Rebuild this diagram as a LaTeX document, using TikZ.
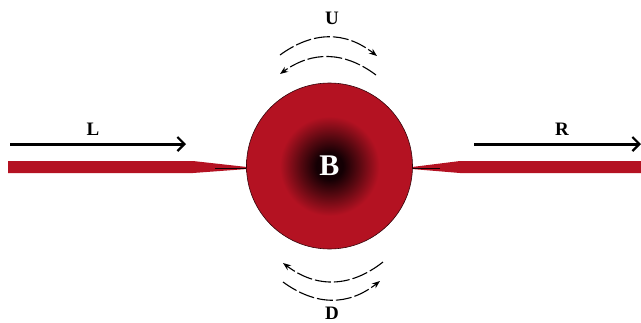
\documentclass[tikz,border=0pt]{standalone}
\usepackage{fontspec}
\setmainfont{Liberation Serif}
\usetikzlibrary{arrows.meta}
\definecolor{ballred}{RGB}{180,18,34}
\definecolor{balldark}{RGB}{20,0,4}
\pgfdeclareradialshading{ballshade}{\pgfpoint{0bp}{0bp}}{%
  color(0bp)=(balldark); color(4bp)=(balldark); color(9bp)=(ballred!50!black);
  color(15bp)=(ballred); color(50bp)=(ballred)}
\tikzset{
  lbl/.style={font=\bfseries\fontsize{19}{19}\selectfont, inner sep=0pt},
  bigarrow/.style={line width=3pt, -{Straight Barb[length=7pt,width=14pt,line width=2.2pt]}},
  rotarrow/.style={line width=1.1pt, dash pattern=on 16pt off 3pt, -{Stealth[length=8pt,width=6pt]}},
}
\begin{document}
\begin{tikzpicture}[x=1pt,y=-1pt]
\useasboundingbox (0,0) rectangle (641,322);
% strips
\fill[ballred] (8,161) -- (193,161) -- (247,167) -- (247,169) -- (193,173) -- (8,173) -- cycle;
\fill[ballred] (641,161) -- (460,161) -- (412,167) -- (412,169) -- (460,173) -- (641,173) -- cycle;
\draw[balldark, line width=0.6pt] (215,168) -- (247,168);
\draw[balldark, line width=0.6pt] (412,168) -- (440,168);
% ball
\node[circle, minimum size=166pt, inner sep=0pt, shading=ballshade, draw=balldark!80!ballred, line width=0.6pt] (B) at (329.5,166) {};
\node[lbl, text=white, font=\bfseries\fontsize{30}{30}\selectfont] (Bl) at (B.center) {B};
% left / right arrows
\coordinate (l1) at (10,144); \coordinate (l2) at (186,144);
\coordinate (r1) at (474,144); \coordinate (r2) at (641,144);
\draw[bigarrow] (l1) -- (l2);
\draw[bigarrow] (r1) -- (r2);
\node[lbl] (L) at (93,129) {L};
\node[lbl] (R) at (562,129) {R};
% U arcs
\coordinate (u1a) at (280,55); \coordinate (u1b) at (377,56);
\coordinate (u2a) at (376,75); \coordinate (u2b) at (280,74);
\draw[rotarrow] (u1a) .. controls (313,31) and (345,31) .. (u1b);
\draw[rotarrow] (u2a) .. controls (344,51) and (312,51) .. (u2b);
\node[lbl] (U) at (332,18) {U};
% D arcs
\coordinate (d1a) at (383,262); \coordinate (d1b) at (283,263);
\coordinate (d2a) at (283,282); \coordinate (d2b) at (380,281);
\draw[rotarrow] (d1a) .. controls (350,288) and (316,288) .. (d1b);
\draw[rotarrow] (d2a) .. controls (316,306) and (348,306) .. (d2b);
\node[lbl] (D) at (332,313) {D};
\end{tikzpicture}
\end{document}
